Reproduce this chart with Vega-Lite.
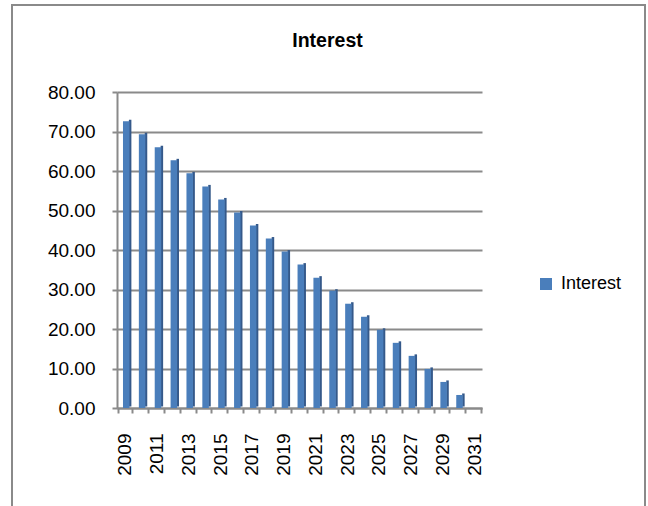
{
  "$schema": "https://vega.github.io/schema/vega-lite/v6.json",
  "autosize": "none",
  "width": 365,
  "height": 316,
  "padding": {"left": 117, "top": 92, "right": 166, "bottom": 98},
  "background": "white",
  "title": {
    "text": "Interest",
    "font": "Liberation Sans",
    "fontSize": 19.5,
    "fontWeight": "bold",
    "color": "#000000",
    "anchor": "middle",
    "baseline": "alphabetic",
    "dx": 28,
    "offset": -62
  },
  "config": {
    "view": {"stroke": null},
    "font": "Liberation Sans",
    "axis": {
      "domainColor": "#8a8a8a",
      "domainWidth": 2,
      "tickColor": "#8a8a8a",
      "tickWidth": 2,
      "tickSize": 5,
      "gridColor": "#8a8a8a",
      "gridWidth": 2,
      "labelFont": "Liberation Sans",
      "labelColor": "#000000",
      "labelFontSize": 19
    }
  },
  "layer": [
    {
      "data": {"values": [{}]},
      "mark": {"type": "rect", "fill": null, "stroke": "#8a8a8a", "strokeWidth": 2},
      "encoding": {
        "x": {"value": -105},
        "x2": {"value": 528},
        "y": {"value": -87},
        "y2": {"value": 425}
      }
    },
    {
      "data": {
        "values": [
          {"year": "2009", "interest": 72.6},
          {"year": "2010", "interest": 69.3},
          {"year": "2011", "interest": 66.0},
          {"year": "2012", "interest": 62.7},
          {"year": "2013", "interest": 59.4},
          {"year": "2014", "interest": 56.1},
          {"year": "2015", "interest": 52.8},
          {"year": "2016", "interest": 49.5},
          {"year": "2017", "interest": 46.2},
          {"year": "2018", "interest": 42.9},
          {"year": "2019", "interest": 39.6},
          {"year": "2020", "interest": 36.3},
          {"year": "2021", "interest": 33.0},
          {"year": "2022", "interest": 29.7},
          {"year": "2023", "interest": 26.4},
          {"year": "2024", "interest": 23.1},
          {"year": "2025", "interest": 19.8},
          {"year": "2026", "interest": 16.5},
          {"year": "2027", "interest": 13.2},
          {"year": "2028", "interest": 9.9},
          {"year": "2029", "interest": 6.6},
          {"year": "2030", "interest": 3.3},
          {"year": "2031", "interest": 0.0}
        ]
      },
      "encoding": {
        "x": {
          "field": "year",
          "type": "ordinal",
          "axis": {
            "title": null,
            "labelAngle": -90,
            "labelPadding": 20,
            "tickBand": "extent",
            "labelExpr": "toNumber(datum.value) % 2 == 1 ? datum.label : ''",
            "grid": false
          }
        },
        "y": {
          "field": "interest",
          "type": "quantitative",
          "scale": {"domain": [0, 80], "nice": false},
          "axis": {
            "title": null,
            "values": [0, 10, 20, 30, 40, 50, 60, 70, 80],
            "format": ".2f",
            "labelPadding": 17,
            "grid": true
          }
        }
      },
      "layer": [
        {
          "mark": {"type": "bar", "width": 2.5, "xOffset": 5.2, "yOffset": -1.5, "color": "#35598a"}
        },
        {
          "mark": {"type": "bar", "width": 6.5, "xOffset": 1.3},
          "encoding": {
            "color": {
              "datum": "Interest",
              "scale": {"range": ["#4a7ebb"]},
              "legend": {
                "orient": "none",
                "legendX": 420,
                "legendY": 183,
                "title": null,
                "symbolType": "square",
                "symbolSize": 144,
                "symbolStrokeWidth": 0,
                "labelFont": "Liberation Sans",
                "labelFontSize": 18,
                "labelColor": "#000000",
                "labelOffset": 6
              }
            }
          }
        }
      ]
    }
  ]
}
